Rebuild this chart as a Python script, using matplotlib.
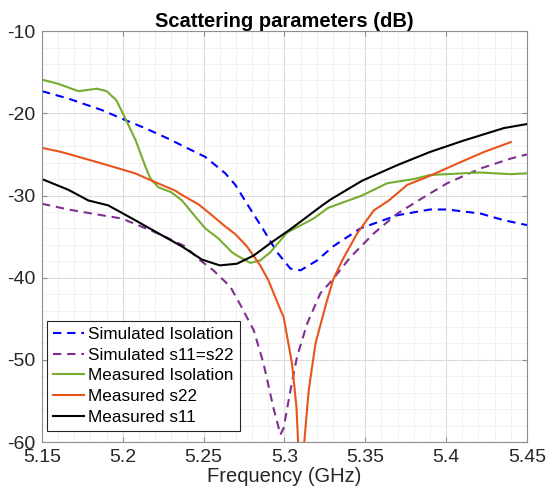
import matplotlib
matplotlib.use("Agg")
import matplotlib.pyplot as plt
from matplotlib.ticker import MultipleLocator, FuncFormatter

plt.rcParams["font.family"] = ["Liberation Sans", "DejaVu Sans"]
plt.rcParams["axes.unicode_minus"] = False

# frequency (GHz) / level (dB)
sim_iso_f = [5.15, 5.1663, 5.187, 5.2014, 5.2138, 5.2283, 5.2406, 5.251, 5.2634, 5.2696,
             5.2768, 5.2871, 5.2954, 5.3037, 5.310, 5.3202, 5.330, 5.347, 5.3698, 5.390,
             5.4007, 5.4214, 5.4356, 5.45]
sim_iso_db = [-17.3, -18.2, -19.6, -20.8, -21.8, -23.1, -24.3, -25.3, -27.3, -28.7,
              -31.0, -34.2, -36.9, -38.9, -39.1, -37.9, -36.2, -34.0, -32.4, -31.7,
              -31.7, -32.2, -33.0, -33.6]

sim_s11_f = [5.15, 5.1663, 5.187, 5.1994, 5.2118, 5.224, 5.2386, 5.248, 5.256, 5.2665,
             5.2727, 5.281, 5.287, 5.293, 5.2975, 5.2995, 5.3037, 5.3078, 5.314, 5.3222,
             5.3295, 5.3408, 5.3553, 5.3698, 5.3862, 5.4007, 5.4214, 5.44, 5.45]
sim_s11_db = [-31.0, -31.7, -32.4, -32.8, -33.8, -34.8, -36.2, -37.9, -39.1, -41.1,
              -43.3, -46.4, -50.4, -55.7, -59.1, -58.3, -53.7, -49.6, -45.6, -41.9,
              -40.3, -37.5, -34.6, -32.2, -30.2, -28.5, -26.7, -25.5, -25.0]

meas_iso_f = [5.15, 5.16, 5.1725, 5.184, 5.190, 5.196, 5.201, 5.208, 5.214, 5.217, 5.222,
              5.230, 5.2366, 5.245, 5.251, 5.259, 5.2675, 5.2706, 5.2789, 5.285, 5.2913,
              5.3016, 5.318, 5.327, 5.348, 5.3636, 5.38, 5.390, 5.421, 5.44, 5.45]
meas_iso_db = [-15.9, -16.4, -17.3, -17.0, -17.3, -18.4, -20.4, -23.3, -26.5, -27.9, -29.0,
               -29.6, -30.6, -32.6, -34.0, -35.2, -36.9, -37.3, -38.2, -37.9, -36.9,
               -34.5, -32.8, -31.5, -30.0, -28.5, -28.0, -27.5, -27.2, -27.4, -27.3]

meas_s22_f = [5.15, 5.162, 5.187, 5.2076, 5.218, 5.2324, 5.2355, 5.247, 5.257, 5.2623,
              5.2696, 5.2768, 5.285, 5.290, 5.2975, 5.2995, 5.3047, 5.3074, 5.3084, 5.310,
              5.3123, 5.315, 5.3192, 5.3253, 5.330, 5.3357, 5.345, 5.3553, 5.3646, 5.376,
              5.390, 5.407, 5.4234, 5.44]
meas_s22_db = [-24.2, -24.7, -26.1, -27.3, -28.2, -29.4, -29.8, -31.1, -32.7, -33.6,
               -34.7, -36.2, -38.5, -40.3, -43.9, -44.8, -50.5, -55.7, -59.9, -65.0,
               -59.9, -53.7, -48.0, -43.5, -40.3, -37.9, -34.6, -31.8, -30.6, -28.7,
               -27.6, -26.1, -24.7, -23.5]

meas_s11_f = [5.15, 5.1663, 5.1787, 5.191, 5.2076, 5.222, 5.2366, 5.249, 5.260, 5.2706,
              5.281, 5.2913, 5.3037, 5.322, 5.3284, 5.348, 5.3698, 5.390, 5.411, 5.4356, 5.45]
meas_s11_db = [-28.0, -29.3, -30.6, -31.2, -33.0, -34.6, -36.2, -37.8, -38.5, -38.3,
               -37.3, -35.8, -34.1, -31.4, -30.5, -28.2, -26.3, -24.7, -23.3, -21.8, -21.3]

fig = plt.figure(figsize=(5.48, 4.95), dpi=100)
ax = fig.add_axes([0.0766, 0.107, 0.885, 0.830])

dash = (0, (4, 2.8))
ax.plot(sim_iso_f, sim_iso_db, color="#0000ff", lw=1.5, ls=dash, label="Simulated Isolation")
ax.plot(sim_s11_f, sim_s11_db, color="#7e2f8e", lw=1.5, ls=dash, label="Simulated s11=s22")
ax.plot(meas_iso_f, meas_iso_db, color="#77ac30", lw=1.5, label="Measured Isolation")
ax.plot(meas_s22_f, meas_s22_db, color="#e8541a", lw=1.5, label="Measured s22")
ax.plot(meas_s11_f, meas_s11_db, color="black", lw=1.5, label="Measured s11")

ax.set_xlim(5.15, 5.45)
ax.set_ylim(-60, -10)
ax.xaxis.set_major_locator(MultipleLocator(0.05))
ax.xaxis.set_minor_locator(MultipleLocator(0.01))
ax.yaxis.set_major_locator(MultipleLocator(10))
ax.yaxis.set_minor_locator(MultipleLocator(2))
ax.xaxis.set_major_formatter(FuncFormatter(lambda v, p: f"{v:g}"))
ax.yaxis.set_major_formatter(FuncFormatter(lambda v, p: f"{v:g}"))

ax.grid(which="major", color="#dcdcdc", lw=0.8)
ax.grid(which="minor", color="#efefef", lw=0.6)
ax.set_axisbelow(True)
ax.tick_params(which="major", direction="in", length=3.6, width=0.8, colors="#8f8f8f",
               labelcolor="#262626", labelsize=14, top=True, right=True, pad=5)
ax.tick_params(which="minor", length=0)
for s in ax.spines.values():
    s.set_color("#8f8f8f")

ax.set_title("Scattering parameters (dB)", fontsize=14.5, fontweight="bold", pad=3)
ax.set_xlabel("Frequency (GHz)", fontsize=14.5, color="#262626", labelpad=1)

leg = ax.legend(loc="lower left", fontsize=12.3, handlelength=1.8, handletextpad=0.25,
                labelspacing=0.34, borderpad=0.35, borderaxespad=0, fancybox=False,
                framealpha=1, bbox_to_anchor=(0.011, 0.027))
leg.get_frame().set_edgecolor("#262626")
leg.get_frame().set_linewidth(0.8)

fig.savefig("out.png", dpi=100)
